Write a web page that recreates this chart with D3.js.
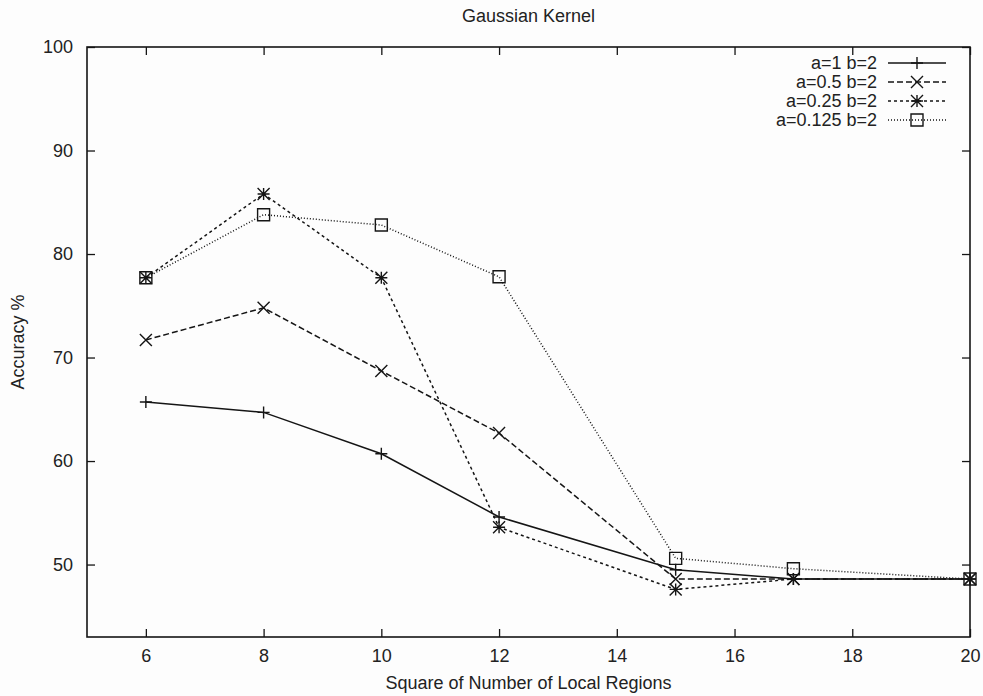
<!DOCTYPE html>
<html>
<head>
<meta charset="utf-8">
<script src="https://cdn.jsdelivr.net/npm/d3@7"></script>
<style>
body{margin:0;background:#fdfdfd;}
text{font-family:"Liberation Sans",Arial,sans-serif;fill:#222;}
</style>
</head>
<body>
<svg id="chart" width="983" height="696"></svg>
<script>
// data
const xs = [6, 8, 10, 12, 15, 17, 20]
const s_a1 = [65.7, 64.7, 60.7, 54.6, 49.5, 48.6, 48.6]
const s_a05 = [71.7, 74.8, 68.7, 62.7, 48.6, 48.6, 48.6]
const s_a025 = [77.7, 85.8, 77.7, 53.6, 47.6, 48.6, 48.6]
const s_a0125 = [77.7, 83.8, 82.8, 77.8, 50.6, 49.6, 48.6]
const names = ['a=1 b=2', 'a=0.5 b=2', 'a=0.25 b=2', 'a=0.125 b=2']
const xTicks = [6, 8, 10, 12, 14, 16, 18, 20]
const yTicks = [50, 60, 70, 80, 90, 100]

const series = [s_a1, s_a05, s_a025, s_a0125]
const dashes = [null, '6,3', '3,3', '1,2']
const markers = ['plus', 'cross', 'star', 'box']

const margin = {top: 47, right: 13, bottom: 59, left: 87}
const W = 983, H = 696
const width = W - margin.left - margin.right
const height = H - margin.top - margin.bottom

const svg = d3.select('#chart')
const chart = svg.append('g').attr('transform', `translate(${margin.left},${margin.top})`)

const xScale = d3.scaleLinear().domain([5, 20]).range([0, width])
const yScale = d3.scaleLinear().domain([43, 100]).range([height, 0])

const ink = '#151515'
const tickLen = 8

// ticks (inward, mirrored)
const axB = chart.append('g').attr('transform', `translate(0,${height})`)
	.call(d3.axisBottom(xScale).tickValues(xTicks).tickSize(-tickLen).tickPadding(12).tickSizeOuter(0))
const axT = chart.append('g')
	.call(d3.axisTop(xScale).tickValues(xTicks).tickSize(-tickLen).tickFormat('').tickSizeOuter(0))
const axL = chart.append('g')
	.call(d3.axisLeft(yScale).tickValues(yTicks).tickSize(-tickLen).tickPadding(14).tickSizeOuter(0))
const axR = chart.append('g').attr('transform', `translate(${width},0)`)
	.call(d3.axisRight(yScale).tickValues(yTicks).tickSize(-tickLen).tickFormat('').tickSizeOuter(0))

chart.selectAll('.domain').remove()
chart.selectAll('.tick line').attr('stroke', ink).attr('stroke-width', 1.3)
chart.selectAll('.tick text').attr('font-size', 18).attr('fill', '#222')
	.attr('font-family', '"Liberation Sans",Arial,sans-serif')

chart.append('rect')
	.attr('width', width).attr('height', height)
	.attr('fill', 'none').attr('stroke', ink).attr('stroke-width', 1.6)

// marker drawing
const markerPath = (type, s) => {
	const p = d3.path()
	if(type === 'plus' || type === 'star'){
		p.moveTo(-s, 0); p.lineTo(s, 0)
		p.moveTo(0, -s); p.lineTo(0, s)
	}
	if(type === 'cross' || type === 'star'){
		p.moveTo(-s, -s); p.lineTo(s, s)
		p.moveTo(-s, s); p.lineTo(s, -s)
	}
	if(type === 'box'){
		p.rect(-s, -s, 2 * s, 2 * s)
	}
	return p.toString()
}

const line = d3.line()
	.x(d => xScale(d[0]))
	.y(d => yScale(d[1]))

series.forEach((vals, i) => {
	const pts = xs.map((x, j) => [x, vals[j]])
	chart.append('path')
		.datum(pts)
		.attr('d', line)
		.attr('fill', 'none')
		.attr('stroke', ink)
		.attr('stroke-width', 1.5)
		.attr('stroke-dasharray', dashes[i])

	const sz = markers[i] === 'box' ? 6 : 6
	chart.selectAll(`.m${i}`)
		.data(pts)
		.enter()
		.append('path')
		.classed(`m${i}`, true)
		.attr('transform', d => `translate(${xScale(d[0])},${yScale(d[1])})`)
		.attr('d', markerPath(markers[i], sz))
		.attr('fill', 'none')
		.attr('stroke', ink)
		.attr('stroke-width', 1.4)
})

// legend
const legend = svg.append('g')
names.forEach((n, i) => {
	const y = 63 + i * 19
	legend.append('text')
		.attr('x', 877).attr('y', y).attr('dy', '0.35em')
		.attr('text-anchor', 'end').attr('font-size', 18)
		.text(n)
	legend.append('line')
		.attr('x1', 888).attr('x2', 946).attr('y1', y).attr('y2', y)
		.attr('stroke', ink).attr('stroke-width', 1.5)
		.attr('stroke-dasharray', dashes[i])
	legend.append('path')
		.attr('transform', `translate(917,${y})`)
		.attr('d', markerPath(markers[i], 6))
		.attr('fill', 'none').attr('stroke', ink).attr('stroke-width', 1.4)
})

// titles
svg.append('text')
	.attr('x', margin.left + width / 2).attr('y', 22)
	.attr('text-anchor', 'middle').attr('font-size', 18)
	.text('Gaussian Kernel')

svg.append('text')
	.attr('x', margin.left + width / 2).attr('y', 689)
	.attr('text-anchor', 'middle').attr('font-size', 18)
	.text('Square of Number of Local Regions')

svg.append('text')
	.attr('transform', `translate(24,${margin.top + height / 2}) rotate(-90)`)
	.attr('text-anchor', 'middle').attr('font-size', 18)
	.text('Accuracy %')
</script>
</body>
</html>
